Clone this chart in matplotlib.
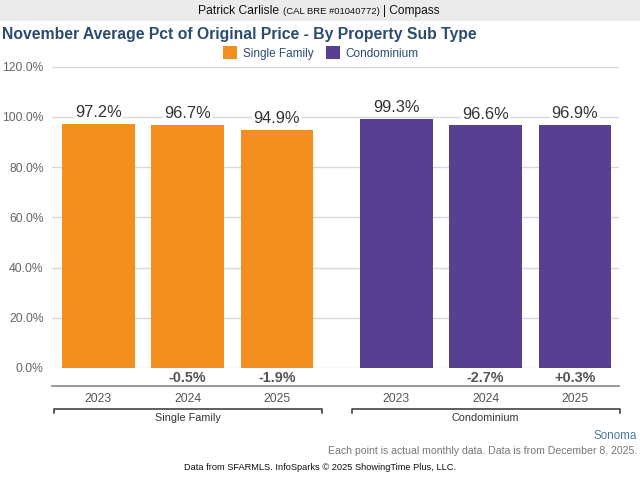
import matplotlib
matplotlib.use("Agg")
import matplotlib.pyplot as plt
from matplotlib.transforms import blended_transform_factory
from matplotlib.lines import Line2D
from matplotlib.patches import Rectangle

plt.rcParams['font.family'] = ['Liberation Sans', 'DejaVu Sans']

groups = ["Single Family", "Condominium"]
years = ["2023", "2024", "2025"]
single_family = [97.2, 96.7, 94.9]
condominium = [99.3, 96.6, 96.9]
sf_change = ["", "-0.5%", "-1.9%"]
condo_change = ["", "-2.7%", "+0.3%"]
yticks = [0, 20, 40, 60, 80, 100, 120]

colors = ["#F28F1F", "#574091"]
W, H = 640, 480

fig = plt.figure(figsize=(6.4, 4.8), dpi=100)

def fx(x):
    return x / W

def fy(y):
    return 1 - y / H

# header band
fig.patches.append(Rectangle((0, fy(21)), 1, 21 / H, transform=fig.transFigure,
                             facecolor="#EBEBEB", edgecolor="none", zorder=0))
fig.text(fx(198), fy(11), "Patrick Carlisle", fontsize=8.7, color="#111111", va="center", ha="left")
fig.text(fx(283), fy(11.5), "(CAL BRE #01040772)", fontsize=6.8, color="#111111", va="center", ha="left")
fig.text(fx(383), fy(11), "| Compass", fontsize=8.6, color="#111111", va="center", ha="left")

fig.text(fx(2), fy(35), "November Average Pct of Original Price - By Property Sub Type",
         fontsize=11.3, fontweight="bold", color="#2B4B6F", va="center", ha="left")

left_px, right_px = 52, 619
zero_px, top_px = 368, 66.5
ax = fig.add_axes([fx(left_px), fy(zero_px), (right_px - left_px) / W, (zero_px - top_px) / H])

gap = 1.337
pos_sf = [0, 1, 2]
pos_condo = [2 + gap, 3 + gap, 4 + gap]
bw = 0.815

b1 = ax.bar(pos_sf, single_family, width=bw, color=colors[0], label=groups[0], zorder=2)
b2 = ax.bar(pos_condo, condominium, width=bw, color=colors[1], label=groups[1], zorder=2)

ax.set_xlim(-0.52, pos_condo[-1] + 0.494)
ax.set_ylim(0, 120)
ax.set_yticks(yticks)
ax.set_yticklabels([f"{v:.1f}%" for v in yticks], fontsize=8.7, color="#666666")
ax.tick_params(axis="y", length=0, pad=6)
ax.set_xticks([])
for s in ax.spines.values():
    s.set_visible(False)
ax.grid(axis="y", color="#D8D8D8", linewidth=1, zorder=0)
ax.set_axisbelow(True)

for pos, vals in ((pos_sf, single_family), (pos_condo, condominium)):
    for p, v in zip(pos, vals):
        ax.annotate(f"{v}%", (p, v), xytext=(0, 8), textcoords="offset points",
                    ha="center", va="center", fontsize=11.8, color="#333333", zorder=3,
                    bbox=dict(facecolor="white", edgecolor="none", pad=1))

tr = blended_transform_factory(ax.transData, fig.transFigure)
for pos, chg in ((pos_sf, sf_change), (pos_condo, condo_change)):
    for p, c in zip(pos, chg):
        if c:
            ax.text(p, fy(378), c, transform=tr, ha="center", va="center",
                    fontsize=10.4, fontweight="bold", color="#555555")
    for p, yr in zip(pos, years):
        ax.text(p, fy(399), yr, transform=tr, ha="center", va="center",
                fontsize=8.8, color="#555555")

# axis line
fig.add_artist(Line2D([fx(left_px), fx(right_px)], [fy(386), fy(386)],
                      transform=fig.transFigure, color="#888888", linewidth=1.2))

# group brackets
for pos, g in ((pos_sf, groups[0]), (pos_condo, groups[1])):
    x0, x1 = pos[0] - 0.5, pos[-1] + 0.5
    ax.add_artist(Line2D([x0, x0, x1, x1], [fy(413), fy(408.5), fy(408.5), fy(413)],
                         transform=tr, color="#333333", linewidth=1.1, clip_on=False))
    ax.text((pos[0] + pos[-1]) / 2, fy(418), g, transform=tr, ha="center", va="center",
            fontsize=7.8, color="#333333")

fig.legend(handles=[b1, b2], labels=groups, loc="center", bbox_to_anchor=(fx(321), fy(53)),
           ncol=2, frameon=False, fontsize=8.5, handlelength=1.2, handleheight=1.2,
           handletextpad=0.45, columnspacing=1.1, labelcolor="#2B4B6F")

fig.text(fx(637), fy(436), "Sonoma", fontsize=8.4, color="#4A78AA", ha="right", va="center")
fig.text(fx(637), fy(451), "Each point is actual monthly data. Data is from December 8, 2025.",
         fontsize=7.6, color="#777777", ha="right", va="center")
fig.text(fx(320), fy(468), "Data from SFARMLS. InfoSparks \u00a9 2025 ShowingTime Plus, LLC.",
         fontsize=6.7, color="#111111", ha="center", va="center")

fig.savefig("out.png", dpi=100)
